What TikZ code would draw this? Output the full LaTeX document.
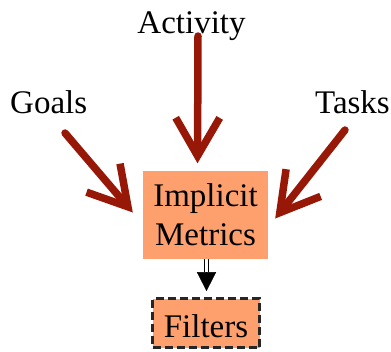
\documentclass[tikz,border=0pt]{standalone}
\usepackage{fontspec}
\setmainfont{Liberation Serif}
\usetikzlibrary{arrows.meta}
\definecolor{arrowred}{RGB}{152,24,8}
\definecolor{boxfill}{RGB}{253,160,110}
\tikzset{
  lbl/.style={inner sep=0pt, font=\fontsize{33pt}{39pt}\selectfont},
  bigarr/.style={draw=arrowred, line width=7.5pt, line cap=round,
    -{Straight Barb[length=38pt,width=44pt]}},
  metricbox/.style={fill=boxfill, inner sep=0pt, minimum width=125pt, minimum height=88pt, align=center,
    font=\fontsize{33pt}{39pt}\selectfont},
  filterbox/.style={fill=boxfill, draw=black!85, line width=2.6pt, dash pattern=on 8pt off 4pt,
    inner sep=0pt, minimum width=107pt, minimum height=49pt, text height=29pt, text depth=0pt,
    font=\fontsize{33pt}{39pt}\selectfont},
  stem/.style={draw=black, double=white, double distance=2.4pt, line width=0.9pt},
  smallhead/.style={draw=black, line width=0.5pt, -{Triangle[length=19pt,width=19pt]}}
}
\begin{document}
\begin{tikzpicture}[x=1pt,y=-1pt]
\useasboundingbox (0,0) rectangle (391,351);
\node[lbl, anchor=base] (act) at (191.5,33) {Activity};
\node[lbl, anchor=base west] (goals) at (10,113) {Goals};
\node[lbl, anchor=base east] (tasks) at (390,113) {Tasks};
\node[metricbox] (imp) at (205.5,214.5) {Implicit\\Metrics};
\node[filterbox] (filt) at (206,323) {Filters};
\coordinate (acttail) at (198,36);
\coordinate (goaltail) at (65,133);
\coordinate (tasktail) at (345,130);
\coordinate (headbase) at (206.5,273);
\draw[bigarr, shorten >=7pt] (acttail) -- ([xshift=-8pt]imp.north);
\draw[bigarr] (goaltail) -- ([xshift=-10pt,yshift=2pt]imp.west);
\draw[bigarr] (tasktail) -- ([xshift=7pt,yshift=-4pt]imp.east);
\draw[stem] ([xshift=1pt]imp.south) -- ([yshift=1pt]headbase);
\draw[smallhead, shorten >=6pt] (headbase) -- ([xshift=0.5pt]filt.north);
\end{tikzpicture}
\end{document}
